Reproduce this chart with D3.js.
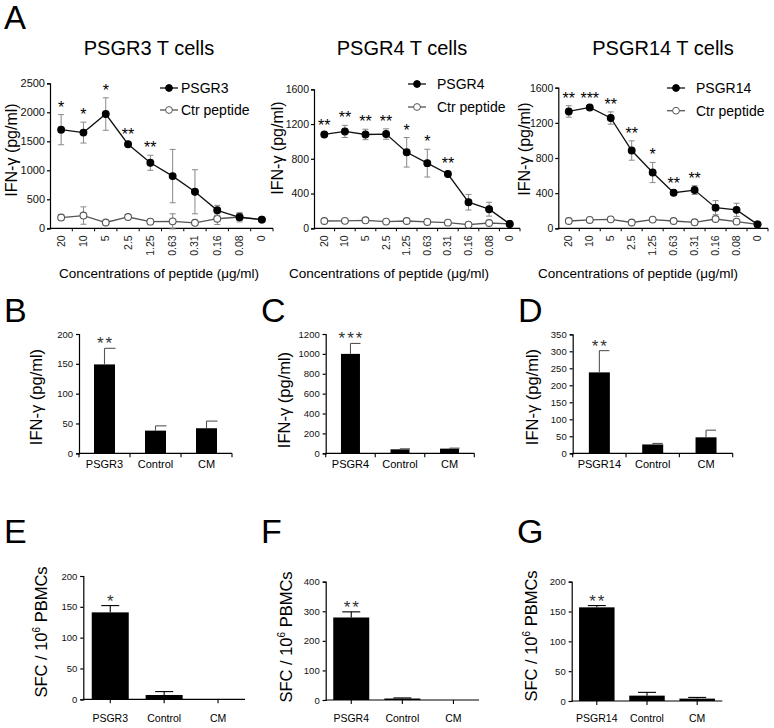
<!DOCTYPE html>
<html><head><meta charset="utf-8">
<script src="https://cdn.jsdelivr.net/npm/d3@7"></script>
<style>body{margin:0;background:#fff}svg{display:block;font-family:"Liberation Sans",Arial,sans-serif}</style>
</head><body>
<svg id="c" width="774" height="728"></svg>
<script>
// ---------- data ----------
const concLabels = ["20","10","5","2.5","1.25","0.63","0.31","0.16","0.08","0"];

const psgr3Mean  = [1700,1650,1970,1450,1130,900,630,310,190,150];
const psgr3Err   = [260,180,280,30,130,460,380,85,80,0];
const ctr3Mean   = [185,220,100,195,115,120,95,165,195,150];
const ctr3Err    = [50,150,0,0,0,130,0,100,60,0];
const psgr3Stars = ["*","*","*","**","**","","","","",""];

const psgr4Mean  = [1080,1115,1080,1085,875,750,625,300,220,50];
const psgr4Err   = [20,70,60,60,170,160,30,90,80,0];
const ctr4Mean   = [84,86,92,77,84,73,65,42,61,50];
const ctr4Err    = [0,0,0,0,0,0,0,0,0,0];
const psgr4Stars = ["**","**","**","**","*","*","**","","",""];

const psgr14Mean  = [1330,1375,1255,885,635,405,435,235,210,45];
const psgr14Err   = [65,20,70,110,115,15,50,80,75,0];
const ctr14Mean   = [83,95,102,66,99,83,68,106,76,45];
const ctr14Err    = [0,0,0,0,0,0,0,0,0,0];
const psgr14Stars = ["**","***","**","**","*","**","**","","",""];

const cats3  = ["PSGR3","Control","CM"];
const cats4  = ["PSGR4","Control","CM"];
const cats14 = ["PSGR14","Control","CM"];

const ifn3Mean = [149,38,42],  ifn3Err = [27,8,12],  ifn3Stars = ["**","",""];
const ifn4Mean = [1000,40,47], ifn4Err = [105,5,5],  ifn4Stars = ["***","",""];
const ifn14Mean = [238,26,47], ifn14Err = [64,3,21], ifn14Stars = ["**","",""];

const sfc3Mean = [141,7,0],  sfc3Err = [11,5.5,0], sfc3Stars = ["*","",""];
const sfc4Mean = [279,5,0],  sfc4Err = [19,2,0],   sfc4Stars = ["**","",""];
const sfc14Mean = [157,9,4], sfc14Err = [3,5.5,2], sfc14Stars = ["**","",""];

// ---------- drawing ----------
const svg = d3.select("#c");
const FONT = '"Liberation Sans",Arial,sans-serif';
const fmt = d3.format("d");

function txt(x,y,s,size,anchor,rot){
  const t = svg.append("text").attr("x",x).attr("y",y).attr("font-size",size)
    .attr("text-anchor",anchor||"start").attr("fill","#000").text(s);
  if(rot) t.attr("transform",`rotate(${rot},${x},${y})`);
  return t;
}

function linePanel(cfg){
  const x = d3.scaleBand().domain(concLabels).range([cfg.x0,cfg.x1]).padding(0);
  const y = d3.scaleLinear().domain([0,cfg.ymax]).range([cfg.yb,cfg.yt]);
  const g = svg.append("g");
  const ya = g.append("g").attr("transform",`translate(${cfg.x0},0)`)
    .call(d3.axisLeft(y).tickValues(d3.range(0,cfg.ymax+1,cfg.step)).tickFormat(fmt).tickSize(3).tickPadding(2));
  ya.selectAll("text").attr("font-size",cfg.tickFont).attr("font-family",FONT).attr("fill","#111");
  ya.selectAll("path,line").attr("stroke","#000").attr("stroke-width",1.2);
  const xa = g.append("g").attr("transform",`translate(0,${cfg.yb})`);
  xa.append("line").attr("x1",cfg.x0).attr("x2",cfg.x1).attr("stroke","#000").attr("stroke-width",1.2);
  const bounds = concLabels.map(d=>x(d)).concat([cfg.x1]);
  xa.selectAll("line.tk").data(bounds.slice(1)).join("line").attr("class","tk")
    .attr("x1",d=>d).attr("x2",d=>d).attr("y1",0).attr("y2",3).attr("stroke","#000");
  xa.selectAll("text").data(concLabels).join("text")
    .attr("transform",d=>`translate(${x(d)+x.bandwidth()/2+3.5},${7}) rotate(-90)`)
    .attr("text-anchor","end").attr("font-size",10.5).attr("fill","#222").text(d=>d);
  const cx = d=>x(d)+x.bandwidth()/2;
  function series(mean,err,filled,color){
    concLabels.forEach((c,i)=>{
      if(err[i]>0){
        const xc=cx(c);
        g.append("line").attr("x1",xc).attr("x2",xc).attr("y1",y(mean[i]-err[i])).attr("y2",y(mean[i]+err[i])).attr("stroke","#888").attr("stroke-width",1);
        [mean[i]-err[i],mean[i]+err[i]].forEach(v=>g.append("line").attr("x1",xc-3).attr("x2",xc+3).attr("y1",y(v)).attr("y2",y(v)).attr("stroke","#888").attr("stroke-width",1));
      }
    });
    g.append("path").datum(mean).attr("fill","none").attr("stroke",color).attr("stroke-width",1.3)
      .attr("d",d3.line().x((d,i)=>cx(concLabels[i])).y(d=>y(d)));
    g.selectAll(null).data(mean).join("circle").attr("cx",(d,i)=>cx(concLabels[i])).attr("cy",d=>y(d))
      .attr("r",3.4).attr("fill",filled?"#000":"#fff").attr("stroke",filled?"#000":"#555").attr("stroke-width",1.1);
  }
  series(cfg.ctrMean,cfg.ctrErr,false,"#555");
  series(cfg.mean,cfg.err,true,"#111");
  cfg.stars.forEach((s,i)=>{ if(s) txt(cx(concLabels[i]),y(cfg.mean[i]+cfg.err[i])-2,s,16,"middle"); });
  const L=cfg.leg;
  [[cfg.name,true,L.y1],["Ctr peptide",false,L.y2]].forEach(([nm,f,yy])=>{
    g.append("line").attr("x1",L.x).attr("x2",L.x+18).attr("y1",yy).attr("y2",yy).attr("stroke",f?"#111":"#555").attr("stroke-width",1.3);
    g.append("circle").attr("cx",L.x+9).attr("cy",yy).attr("r",3.4).attr("fill",f?"#000":"#fff").attr("stroke",f?"#000":"#555");
    txt(L.tx,yy+5,nm,14,"start");
  });
  txt(cfg.titleX,55,cfg.title,20,"middle");
  txt(cfg.ylabX,cfg.ylabY,"IFN-γ (pg/ml)",16,"middle",-90);
  txt(cfg.xlabX,278,"Concentrations of peptide (μg/ml)",13.5,"middle");
}

function barPanel(cfg){
  const x = d3.scaleBand().domain(cfg.cats).range([cfg.x0,cfg.x1]).paddingInner(0).paddingOuter(0);
  const y = d3.scaleLinear().domain([0,cfg.ymax]).range([cfg.yb,cfg.yt]);
  const g = svg.append("g");
  const ya = g.append("g").attr("transform",`translate(${cfg.x0},0)`)
    .call(d3.axisLeft(y).tickValues(d3.range(0,cfg.ymax+1,cfg.step)).tickFormat(fmt).tickSize(3).tickPadding(3));
  ya.selectAll("text").attr("font-size",cfg.tickFont).attr("font-family",FONT).attr("fill","#111");
  ya.selectAll("path,line").attr("stroke","#000").attr("stroke-width",1.2);
  const xa = g.append("g").attr("transform",`translate(0,${cfg.yb})`);
  xa.append("line").attr("x1",cfg.x0).attr("x2",cfg.x1).attr("stroke","#000").attr("stroke-width",1.2);
  const tickPos = cfg.centerTicks ? cfg.cats.map(c=>x(c)+x.bandwidth()/2)
                                  : cfg.cats.map(c=>x(c)+x.bandwidth()).concat([cfg.x0]);
  xa.selectAll("line.tk").data(tickPos).join("line").attr("class","tk")
    .attr("x1",d=>d).attr("x2",d=>d).attr("y1",0).attr("y2",4).attr("stroke","#000").attr("stroke-width",1.1);
  const bw = cfg.barW;
  cfg.cats.forEach((c,i)=>{
    const xc = x(c)+x.bandwidth()/2;
    const v = cfg.mean[i], e = cfg.err[i];
    if(v>0) g.append("rect").attr("x",xc-bw/2).attr("width",bw).attr("y",y(v)).attr("height",cfg.yb-y(v)).attr("fill","#000");
    if(e>0){
      const col = cfg.centerTicks ? "#000" : "#555";
      g.append("line").attr("x1",xc).attr("x2",xc).attr("y1",y(v)).attr("y2",y(v+e)).attr("stroke",col).attr("stroke-width",1.1);
      const c0 = cfg.centerTicks ? xc-cfg.cap : xc, c1 = xc+cfg.cap;
      g.append("line").attr("x1",c0).attr("x2",c1).attr("y1",y(v+e)).attr("y2",y(v+e)).attr("stroke",col).attr("stroke-width",1.1);
    }
    if(cfg.stars[i]) txt(xc+1,y(v+e)+1,cfg.stars[i],17,"middle").attr("letter-spacing",2).attr("fill","#333");
    txt(xc,cfg.labY,c,cfg.labFont,"middle");
  });
  const yl = svg.append("text").attr("x",cfg.ylabX).attr("y",cfg.ylabY).attr("font-size",16.5).attr("text-anchor","middle")
    .attr("transform",`rotate(-90,${cfg.ylabX},${cfg.ylabY})`);
  if(cfg.sfc){
    yl.append("tspan").text("SFC / 10");
    yl.append("tspan").attr("font-size",10).attr("dy",-7).text("6");
    yl.append("tspan").attr("dy",7).text(" PBMCs");
  } else yl.text("IFN-γ (pg/ml)");
  txt(cfg.letterX,cfg.letterY,cfg.letter,34,"start");
}

txt(4,29,"A",33,"start");

linePanel({x0:50,x1:273,yt:83.3,yb:228.3,ymax:2500,step:500,tickFont:11,
  mean:psgr3Mean,err:psgr3Err,ctrMean:ctr3Mean,ctrErr:ctr3Err,stars:psgr3Stars,name:"PSGR3",
  leg:{x:160,tx:181,y1:88,y2:110},title:"PSGR3 T cells",titleX:149,ylabX:17,ylabY:150,xlabX:159});
linePanel({x0:314,x1:520,yt:89.3,yb:228.3,ymax:1600,step:400,tickFont:10.5,
  mean:psgr4Mean,err:psgr4Err,ctrMean:ctr4Mean,ctrErr:ctr4Err,stars:psgr4Stars,name:"PSGR4",
  leg:{x:408,tx:437,y1:84,y2:107},title:"PSGR4 T cells",titleX:402,ylabX:283,ylabY:148,xlabX:389});
linePanel({x0:558.3,x1:768,yt:87.7,yb:228.3,ymax:1600,step:400,tickFont:10.5,
  mean:psgr14Mean,err:psgr14Err,ctrMean:ctr14Mean,ctrErr:ctr14Err,stars:psgr14Stars,name:"PSGR14",
  leg:{x:667,tx:696,y1:88,y2:110.7},title:"PSGR14 T cells",titleX:663,ylabX:530,ylabY:149,xlabX:638});

barPanel({cats:cats3,mean:ifn3Mean,err:ifn3Err,stars:ifn3Stars,x0:79,x1:232,yt:334,yb:453.3,ymax:200,step:50,
  tickFont:9.5,barW:21,cap:11,labY:468,labFont:11,ylabX:42,ylabY:397,letter:"B",letterX:4,letterY:322});
barPanel({cats:cats4,mean:ifn4Mean,err:ifn4Err,stars:ifn4Stars,x0:325.7,x1:474.3,yt:334,yb:453.3,ymax:1200,step:200,
  tickFont:9.5,barW:19,cap:10,labY:468,labFont:11,ylabX:290,ylabY:400,letter:"C",letterX:261,letterY:322});
barPanel({cats:cats14,mean:ifn14Mean,err:ifn14Err,stars:ifn14Stars,x0:572.7,x1:732.7,yt:334.3,yb:453.3,ymax:350,step:50,
  tickFont:9.5,barW:21,cap:10,labY:468,labFont:11,ylabX:538,ylabY:397,letter:"D",letterX:518,letterY:322});

barPanel({cats:cats3,mean:sfc3Mean,err:sfc3Err,stars:sfc3Stars,x0:83.3,x1:245,yt:576,yb:699.3,ymax:200,step:50,centerTicks:true,sfc:true,
  tickFont:9.5,barW:37,cap:9,labY:722,labFont:10.5,ylabX:47,ylabY:632,letter:"E",letterX:4,letterY:543});
barPanel({cats:cats4,mean:sfc4Mean,err:sfc4Err,stars:sfc4Stars,x0:325.7,x1:479,yt:581.7,yb:700,ymax:400,step:100,centerTicks:true,sfc:true,
  tickFont:9.5,barW:36,cap:9,labY:722,labFont:10.5,ylabX:292,ylabY:637,letter:"F",letterX:261,letterY:543});
barPanel({cats:cats14,mean:sfc14Mean,err:sfc14Err,stars:sfc14Stars,x0:571.7,x1:722.3,yt:581.7,yb:701,ymax:200,step:50,centerTicks:true,sfc:true,
  tickFont:9.5,barW:35.5,cap:9,labY:722,labFont:10.5,ylabX:537,ylabY:636,letter:"G",letterX:517,letterY:543});
</script>
</body></html>
